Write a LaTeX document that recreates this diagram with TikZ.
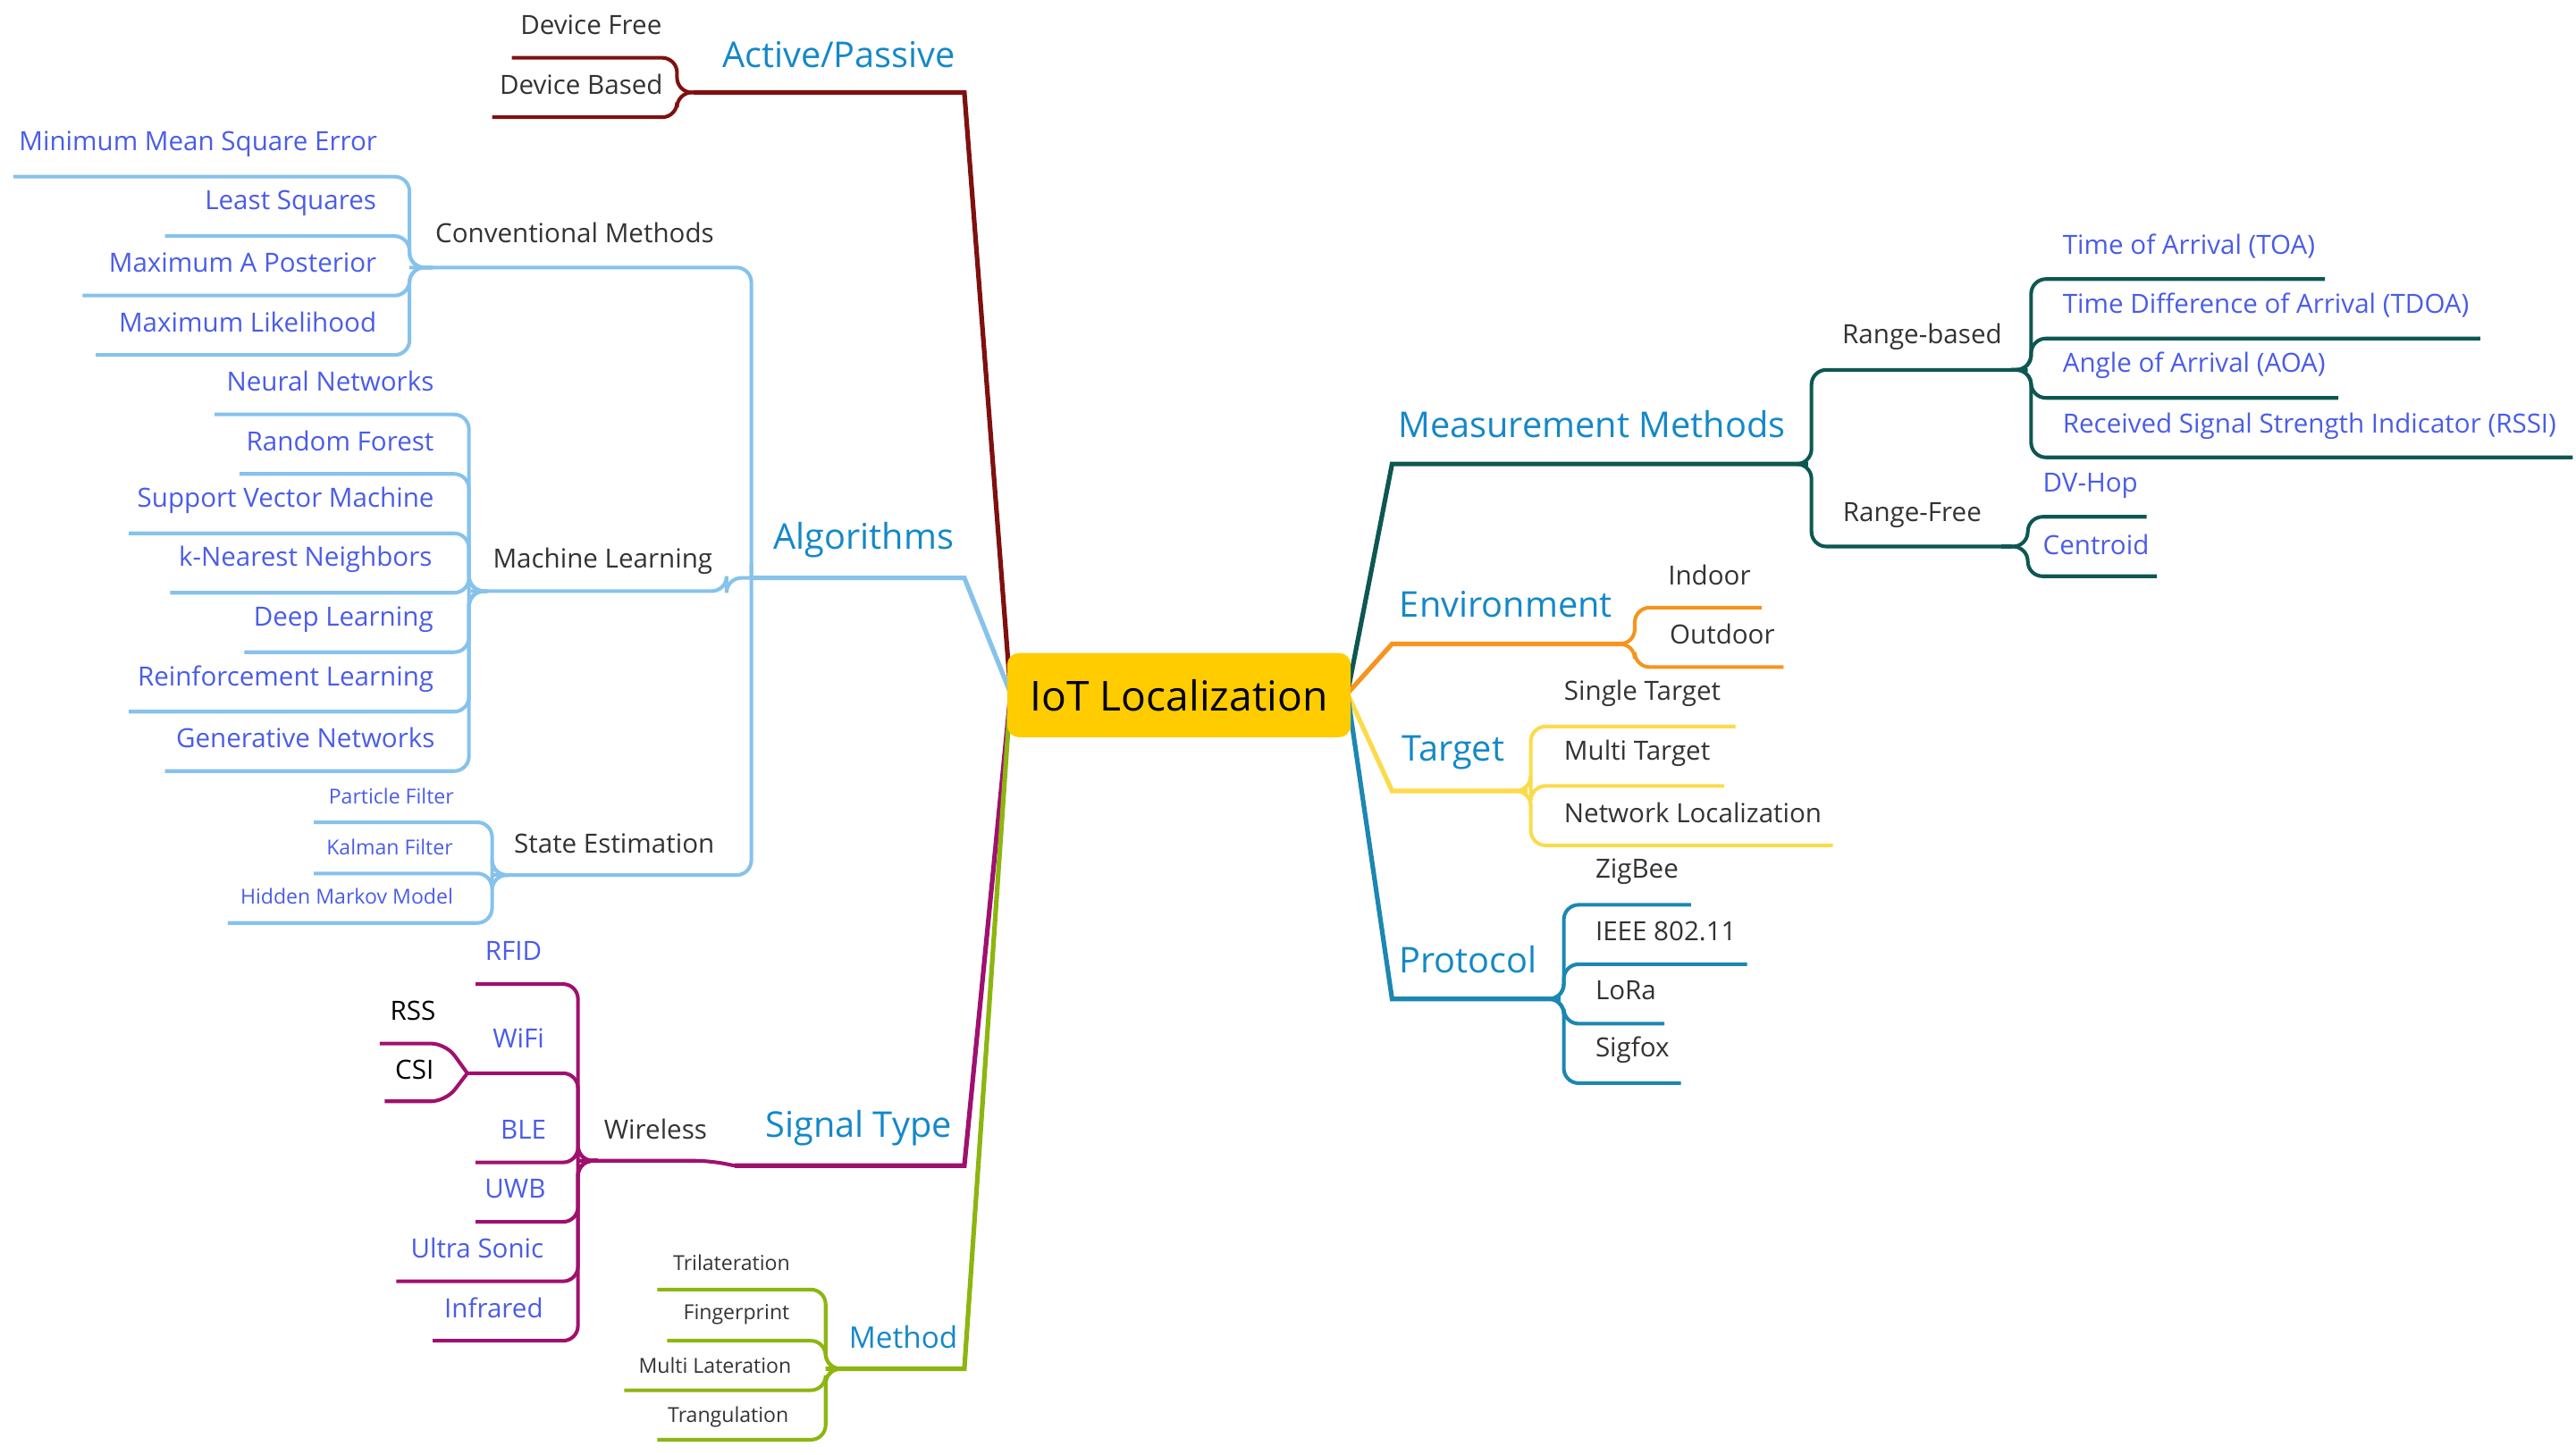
\documentclass[tikz,border=0pt]{standalone}
\usepackage{fontspec}
\setmainfont{Open Sans}
\definecolor{leaf}{HTML}{4A5CE8}
\definecolor{gtx}{HTML}{333333}
\definecolor{brl}{HTML}{1488C8}
\definecolor{cAP}{HTML}{7F1010}
\definecolor{cAL}{HTML}{86C2EC}
\definecolor{cMM}{HTML}{0D5752}
\definecolor{cEN}{HTML}{F7941D}
\definecolor{cTG}{HTML}{FBDB4A}
\definecolor{cPR}{HTML}{1B87B3}
\definecolor{cST}{HTML}{A0106E}
\definecolor{cME}{HTML}{8DB510}
\tikzset{
 x=1pt,y=-1pt,
 ln/.style={line width=2.2pt,rounded corners=9pt},
 main/.style={line width=2.8pt},
 L/.style={font=\fontsize{16}{19}\selectfont,text=leaf,inner sep=0pt},
 G/.style={font=\fontsize{16}{19}\selectfont,text=gtx,inner sep=0pt},
 K/.style={font=\fontsize{16}{19}\selectfont,text=black,inner sep=0pt},
 S/.style={font=\fontsize{12.5}{15}\selectfont,text=leaf,inner sep=0pt},
 SG/.style={font=\fontsize{12.5}{15}\selectfont,text=gtx,inner sep=0pt},
 B/.style={font=\fontsize{21.5}{25}\selectfont,text=brl,inner sep=0pt},
}
\newcommand{\brk}[6]{\draw[ln,#1] (#2,#3) -- (#4,#3) -- (#4,#5) -- (#6,#5);}
\begin{document}
\begin{tikzpicture}
\useasboundingbox (0,0) rectangle (1560,881);
% main connectors
\draw[main,cAP] (612,420) -- (584,56) -- (420,56);
\draw[main,cAL] (612,420) -- (584,350) -- (455,350);
\draw[main,cST] (612,420) -- (584,706) -- (445,706);
\draw[main,cME] (612,420) -- (584,829) -- (500,829);
\draw[main,cMM] (816,420) -- (843,281) -- (1095,281);
\draw[main,cEN] (816,420) -- (843,390) -- (985,390);
\draw[main,cTG] (816,420) -- (843,479) -- (925,479);
\draw[main,cPR] (816,420) -- (843,605) -- (945,605);
\node[fill=cTG!0,fill={rgb,255:red,255;green,204;blue,0},rounded corners=7pt,minimum width=208pt,minimum height=51pt,font=\fontsize{25}{30}\selectfont,text=black] (c) at (714,421) {IoT Localization};
% Active/Passive
\node[B] (ap) at (508,33) {Active/Passive};
\brk{cAP}{420}{56}{410}{35}{310} \brk{cAP}{420}{56}{410}{71}{298}
\node[G] (df) at (358,15) {Device Free};
\node[G] (db) at (352,51) {Device Based};
% Algorithms
\node[B] (alg) at (523,327) {Algorithms};
\brk{cAL}{455}{350}{455}{162}{248}
\brk{cAL}{455}{350}{440}{358}{285}
\brk{cAL}{455}{350}{455}{530}{298}
\node[G] (cm) at (348,141) {Conventional Methods};
\node[G] (mlr) at (365,340) {Machine Learning};
\node[G] (se) at (372,511) {State Estimation};
\foreach \y/\e in {107/8,143/100,179/50,215/58} {\brk{cAL}{262}{162}{248}{\y}{\e}}
\node[L] (a1) at (120,87) {Minimum Mean Square Error};
\node[L] (a2) at (176,123) {Least Squares};
\node[L] (a3) at (147,159) {Maximum A Posterior};
\node[L] (a4) at (150,195) {Maximum Likelihood};
\foreach \y/\e in {251/130,287/145,323/78,359/103,395/148,431/78,467/100} {\brk{cAL}{295}{358}{284}{\y}{\e}}
\node[L] (m1) at (200,231) {Neural Networks};
\node[L] (m2) at (206,267) {Random Forest};
\node[L] (m3) at (173,303) {Support Vector Machine};
\node[L] (m4) at (185,339) {k-Nearest Neighbors};
\node[L] (m5) at (208,375) {Deep Learning};
\node[L] (m6) at (173,411) {Reinforcement Learning};
\node[L] (m7) at (185,447) {Generative Networks};
\foreach \y/\e in {498/190,529/190,559/138} {\brk{cAL}{308}{530}{298}{\y}{\e}}
\node[S] (s1) at (237,482) {Particle Filter};
\node[S] (s2) at (236,513) {Kalman Filter};
\node[S] (s3) at (210,543) {Hidden Markov Model};
% Signal type
\node[B] (st) at (520,683) {Signal Type};
\draw[ln,cST] (445,706) -- (430,703) -- (350,703);
\node[G] (wl) at (397,684) {Wireless};
\foreach \y/\e in {596/288,650/283,704/288,740/288,776/240,812/262} {\brk{cST}{362}{703}{350}{\y}{\e}}
\node[L] (w1) at (311,576) {RFID};
\node[L] (w2) at (314,629) {WiFi};
\node[L] (w3) at (317,684) {BLE};
\node[L] (w4) at (312,720) {UWB};
\node[L] (w5) at (289,756) {Ultra Sonic};
\node[L] (w6) at (299,792) {Infrared};
\draw[ln,cST] (283,650) -- (270,632) -- (230,632);
\draw[ln,cST] (283,650) -- (270,667) -- (233,667);
\node[K] (rss) at (250,612) {RSS};
\node[K] (csi) at (251,648) {CSI};
% Method
\node[font=\fontsize{18}{22}\selectfont,text=brl,inner sep=0pt] (me) at (547,810) {Method};
\foreach \y/\e in {781/398,812/404,842/378,872/398} {\brk{cME}{512}{829}{500}{\y}{\e}}
\node[SG] (t1) at (443,765) {Trilateration};
\node[SG] (t2) at (446,796) {Fingerprint};
\node[SG] (t3) at (433,827) {Multi Lateration};
\node[SG] (t4) at (441,858) {Trangulation};
% Measurement methods
\node[B] (mm) at (964,257) {Measurement Methods};
\brk{cMM}{1095}{281}{1097}{224}{1228}
\brk{cMM}{1095}{281}{1097}{331}{1218}
\node[G] (rb) at (1164,204) {Range-based};
\node[G] (rf) at (1158,312) {Range-Free};
\foreach \y/\e in {169/1408,205/1502,241/1416,277/1558} {\brk{cMM}{1218}{224}{1230}{\y}{\e}}
\node[L,anchor=west] (r1) at (1249,149) {Time of Arrival (TOA)};
\node[L,anchor=west] (r2) at (1249,185) {Time Difference of Arrival (TDOA)};
\node[L,anchor=west] (r3) at (1249,221) {Angle of Arrival (AOA)};
\node[L,anchor=west] (r4) at (1249,258) {Received Signal Strength Indicator (RSSI)};
\foreach \y/\e in {313/1300,349/1306} {\brk{cMM}{1212}{331}{1228}{\y}{\e}}
\node[L,anchor=west] (f1) at (1237,294) {DV-Hop};
\node[L,anchor=west] (f2) at (1237,330) {Centroid};
% Environment
\node[B] (en) at (912,366) {Environment};
\brk{cEN}{980}{390}{990}{368}{1067}
\brk{cEN}{980}{390}{990}{404}{1080}
\node[G,anchor=west] (e1) at (1010,348) {Indoor};
\node[G,anchor=west] (e2) at (1011,384) {Outdoor};
% Target
\node[B] (tg) at (880,456) {Target};
\foreach \y/\e in {440/1051,476/1044,512/1110} {\brk{cTG}{915}{479}{927}{\y}{\e}}
\node[G,anchor=west] (g1) at (947,420) {Single Target};
\node[G,anchor=west] (g2) at (947,456) {Multi Target};
\node[G,anchor=west] (g3) at (947,492) {Network Localization};
% Protocol
\node[B] (pr) at (889,581) {Protocol};
\foreach \y/\e in {548/1024,584/1058,620/1008,656/1018} {\brk{cPR}{935}{605}{947}{\y}{\e}}
\node[G,anchor=west] (p1) at (966,528) {ZigBee};
\node[G,anchor=west] (p2) at (966,564) {IEEE 802.11};
\node[G,anchor=west] (p3) at (966,600) {LoRa};
\node[G,anchor=west] (p4) at (966,636) {Sigfox};
\end{tikzpicture}
\end{document}
